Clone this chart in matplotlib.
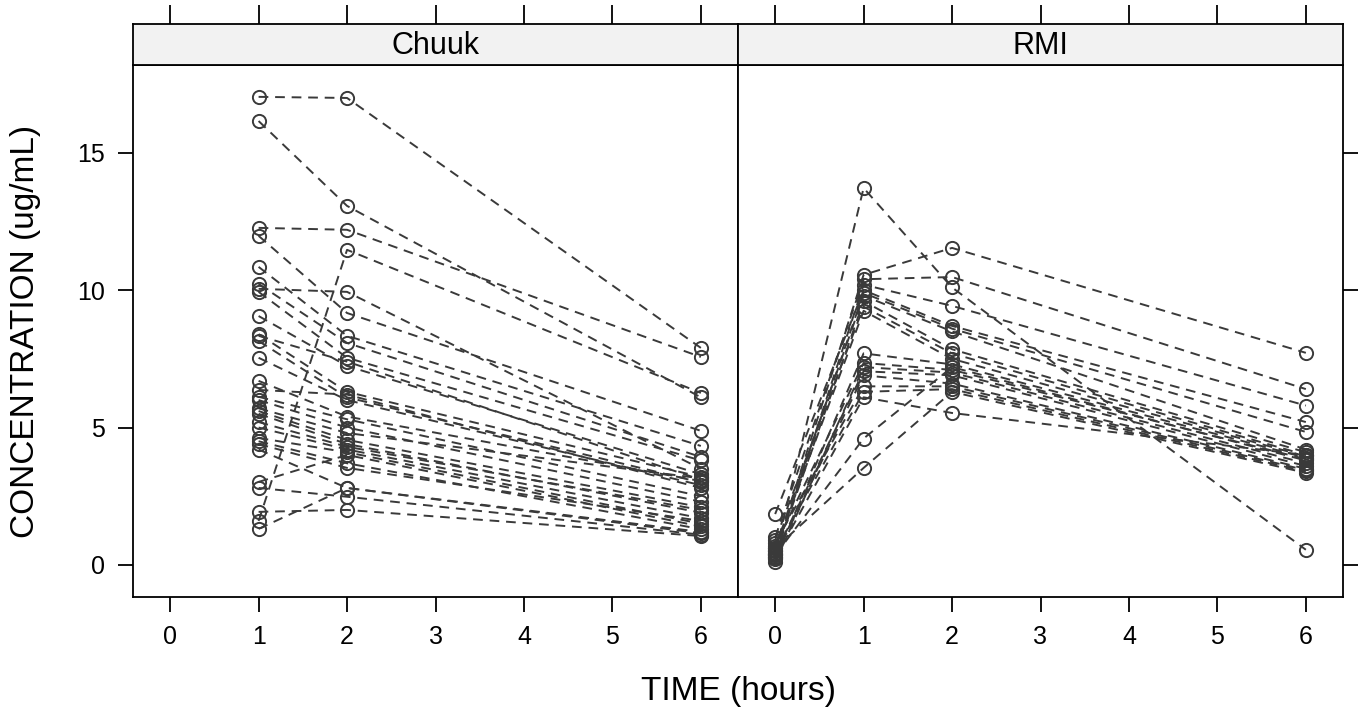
import numpy as np
import matplotlib
matplotlib.use("Agg")
import matplotlib.pyplot as plt

plt.rcParams['font.family'] = ['Liberation Sans', 'DejaVu Sans']

# Chuuk: sampling times and per-subject concentrations
chuuk_times = [1, 2, 6]
chuuk_t1 = [17.04, 16.16, 12.27, 11.98, 10.85, 10.23, 10.05, 9.94, 9.06, 8.40, 8.34,
            8.15, 7.54, 6.70, 6.37, 6.12, 6.00, 5.70, 5.60, 5.50, 5.20, 5.00, 4.62,
            4.50, 4.40, 4.20, 3.02, 2.80, 1.93, 1.60, 1.31]
chuuk_t2 = [17.00, 13.07, 12.20, 9.17, 8.34, 8.08, 9.94, 7.54, 7.24, 6.30, 7.40,
            6.10, 6.00, 5.40, 6.20, 5.30, 5.00, 4.80, 4.55, 4.40, 4.30, 4.20, 4.10,
            3.70, 3.53, 2.80, 4.00, 2.48, 2.00, 11.47, 2.80]
chuuk_t6 = [7.90, 6.10, 7.57, 4.88, 4.33, 3.93, 3.50, 3.80, 3.30, 3.20, 3.10,
            3.00, 2.90, 3.05, 2.80, 2.50, 2.30, 3.15, 2.10, 1.90, 2.00, 1.70, 1.50,
            1.30, 1.60, 1.20, 1.40, 1.10, 1.05, 6.26, 1.15]

# RMI: sampling times and per-subject concentrations
rmi_times = [0, 1, 2, 6]
rmi_t0 = [0.40, 0.50, 1.00, 0.30, 1.85, 0.45, 0.60, 0.35, 0.90, 0.55,
          0.20, 0.70, 0.10, 0.40, 0.30, 0.80, 0.50, 0.25, 0.35, 0.60]
rmi_t1 = [13.72, 10.56, 10.40, 10.20, 10.00, 9.90, 9.80, 9.60, 9.40, 9.25,
          7.70, 7.35, 7.20, 7.05, 6.90, 6.50, 6.30, 6.10, 4.60, 3.53]
rmi_t2 = [10.10, 11.54, 10.48, 9.43, 8.70, 8.60, 8.50, 7.85, 7.70, 7.50,
          7.30, 7.10, 7.00, 6.90, 6.60, 6.50, 6.40, 5.53, 7.20, 6.30]
rmi_t6 = [0.55, 7.72, 6.40, 5.80, 5.20, 4.84, 4.20, 4.10, 4.00, 3.95,
          3.90, 3.85, 3.70, 3.60, 3.50, 3.45, 3.40, 4.00, 3.80, 3.35]

panels = [
    ("Chuuk", chuuk_times, np.column_stack([chuuk_t1, chuuk_t2, chuuk_t6])),
    ("RMI", rmi_times, np.column_stack([rmi_t0, rmi_t1, rmi_t2, rmi_t6])),
]

xticks = [0, 1, 2, 3, 4, 5, 6]
yticks = [0, 5, 10, 15]
col = '#3a3a3a'

fig = plt.figure(figsize=(13.6, 7.17), dpi=100)
x0, x1 = 133 / 1360, 1343 / 1360
w = (x1 - x0) / 2
bot, top = 1 - 597 / 717, 1 - 65 / 717
strip_top = 1 - 24 / 717

for i, (name, times, conc) in enumerate(panels):
    ax = fig.add_axes([x0 + i * w, bot, w, top - bot])
    for row in conc:
        ax.plot(times, row, color=col, lw=1.4, ls=(0, (5, 3.5)),
                marker='o', ms=9.5, mfc='none', mec=col, mew=1.4)
    ax.set_xlim(-0.42, 6.42)
    ax.set_ylim(-1.17, 18.2)
    ax.set_xticks(xticks)
    ax.set_yticks(yticks)
    ax.tick_params(direction='out', length=11, width=1.3, labelsize=18, pad=9,
                   color='black')
    if i == 0:
        ax.tick_params(axis='y', left=True, right=False, labelleft=True)
    else:
        ax.tick_params(axis='y', left=False, right=True, labelleft=False,
                       labelright=False)
    for s in ax.spines.values():
        s.set_linewidth(1.3)

    sax = fig.add_axes([x0 + i * w, top, w, strip_top - top])
    sax.set_facecolor('#f2f2f2')
    sax.set_xlim(-0.42, 6.42)
    sax.set_xticks(xticks)
    sax.set_yticks([])
    sax.tick_params(axis='x', bottom=False, labelbottom=False, top=True,
                    labeltop=False, direction='out', length=14, width=1.3)
    for s in sax.spines.values():
        s.set_linewidth(1.3)
    sax.text(0.5, 0.47, name, transform=sax.transAxes, ha='center',
             va='center', fontsize=22)

fig.text((x0 + x1) / 2, 0.035, 'TIME (hours)', ha='center', va='center',
         fontsize=24)
fig.text(0.019, (bot + top) / 2, 'CONCENTRATION (ug/mL)', ha='center',
         va='center', rotation=90, fontsize=24)

fig.savefig('out.png', dpi=100)
